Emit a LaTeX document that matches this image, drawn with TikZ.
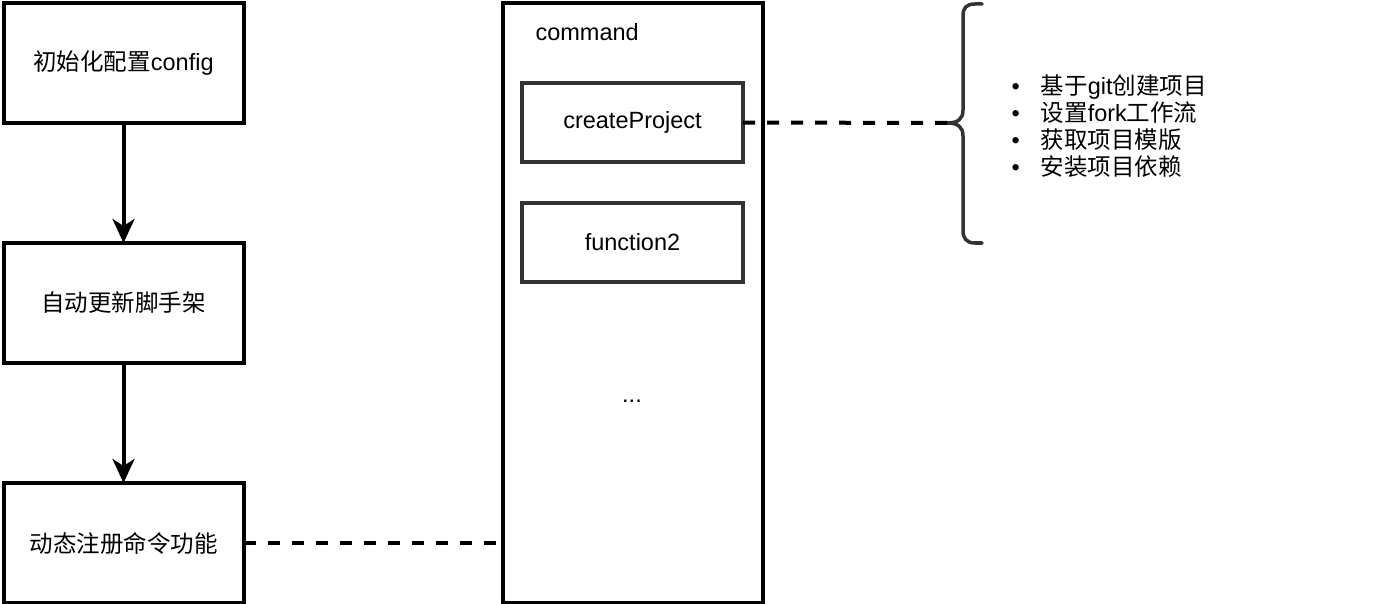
\documentclass[tikz,border=0pt]{standalone}
\usepackage{fontspec}
\setmainfont{Liberation Sans}
\newfontfamily\cjk{Noto Sans CJK SC}
\usetikzlibrary{arrows.meta, positioning}
\definecolor{edgegray}{HTML}{333333}
\tikzset{
x=1pt, y=-1pt, % pixel coordinates, origin top left
node distance=120pt,
font=\fontsize{23.5}{28}\selectfont,
stepbox/.style={draw, line width=4pt, outer sep=0pt, minimum width=240pt, minimum height=120pt},
funcbox/.style={draw=edgegray, line width=3.5pt, outer sep=0pt, minimum width=221pt, minimum height=79pt},
flow/.style={line width=4pt, -{Stealth[length=24pt, width=22pt, inset=7pt]}},
link/.style={line width=4pt, dash pattern=on 12pt off 12pt},
}
\begin{document}
\begin{tikzpicture}
  \useasboundingbox (0,0) rectangle (1384,604);
  % left column
  \node[stepbox] (cfg) at (123.5,63) {{\cjk 初始化配置}config};
  \node[stepbox, below=of cfg] (upd) {\cjk 自动更新脚手架};
  \node[stepbox, below=of upd] (reg) {\cjk 动态注册命令功能};
  \draw[flow] (cfg) -- (upd);
  \draw[flow] (upd) -- (reg);

  % command container
  \node[draw, line width=4pt, minimum width=260pt, minimum height=600pt] (cmd) at (633,303) {};
  \node[anchor=west] (cmdlabel) at (532,32) {command};
  \node[funcbox] (create) at (632.5,122.5) {createProject};
  \node[funcbox, below=41pt of create] (func2) {function2};
  \node (more) at (632,401) {...};

  % brace
  \coordinate (tip) at (947,123);
  \draw[edgegray, line width=3.5pt, line cap=round]
    (982,4) -- (975,4) .. controls (966,4) and (963,8) .. (963,16)
    -- (963,110) .. controls (963,119) and (958,123) .. (tip)
    .. controls (958,123) and (963,127) .. (963,136)
    -- (963,230) .. controls (963,238) and (966,243) .. (975,243) -- (982,243);

  % task list
  \node[anchor=west, align=left] (tasks) at (1008,126) {%
    \textbullet\hspace{21pt}{\cjk 基于}git{\cjk 创建项目}\\[-1pt]
    \textbullet\hspace{21pt}{\cjk 设置}fork{\cjk 工作流}\\[-1pt]
    \textbullet\hspace{21pt}{\cjk 获取项目模版}\\[-1pt]
    \textbullet\hspace{21pt}{\cjk 安装项目依赖}};

  % dashed links
  \draw[link] (create.east) -- (tip);
  \draw[link] (reg.east) -- (reg.east -| cmd.west);
\end{tikzpicture}
\end{document}
